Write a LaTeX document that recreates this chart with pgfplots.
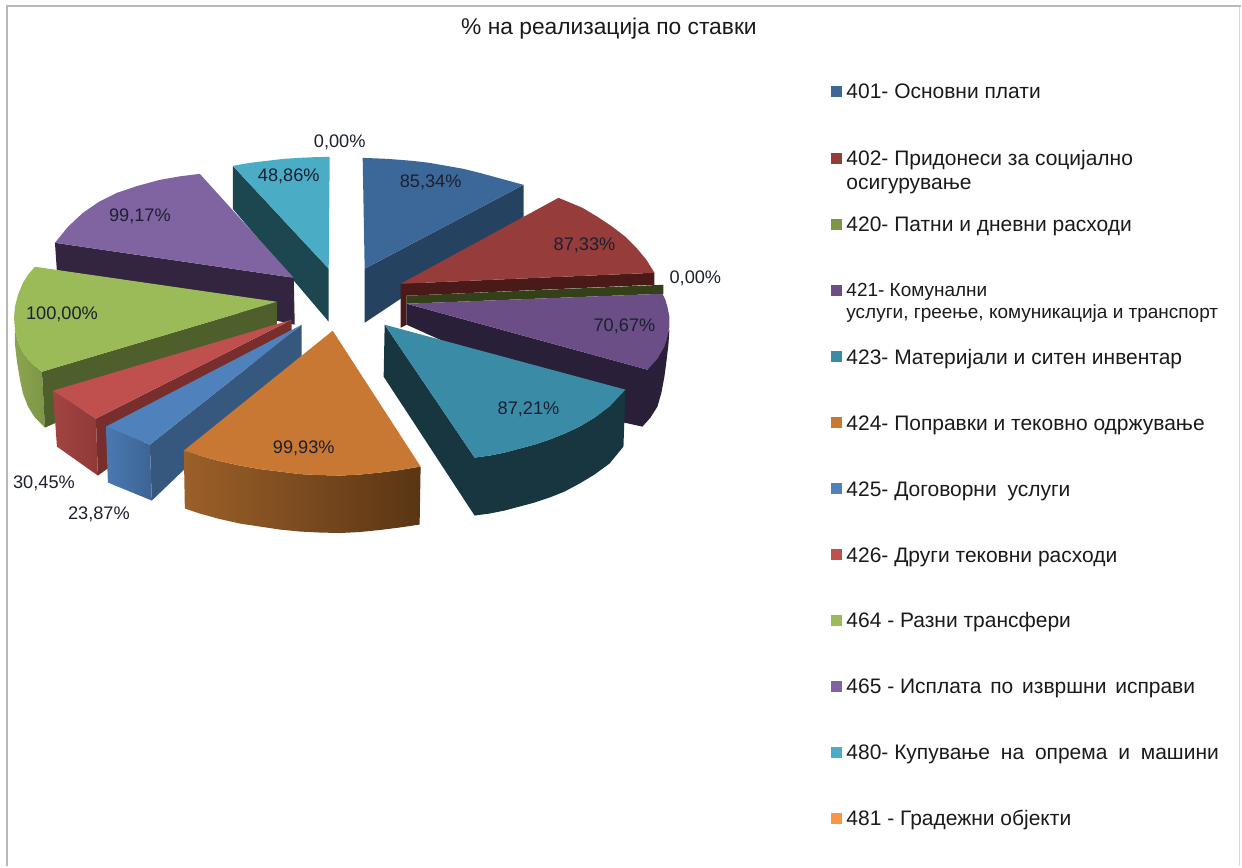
\documentclass[border=0pt]{standalone}
\usepackage{fontspec}
\setmainfont{Liberation Sans}
\usepackage{pgfplots}
\pgfplotsset{compat=1.18}
\definecolor{lab}{HTML}{1C2030}
\definecolor{leg}{HTML}{1A1A1A}
\definecolor{frame}{HTML}{B8B8B8}
\definecolor{frameR}{HTML}{D8D8D8}
\definecolor{cA}{HTML}{3C6799}\definecolor{cAs}{HTML}{254261}
\definecolor{cB}{HTML}{963C3A}\definecolor{cBs}{HTML}{4A1A18}
\definecolor{cC}{HTML}{334018}
\definecolor{cD}{HTML}{6A4E85}\definecolor{cDs}{HTML}{2A1F38}
\definecolor{cE}{HTML}{3A8BA5}\definecolor{cEs}{HTML}{17363F}
\definecolor{cF}{HTML}{C97833}\definecolor{cFa}{HTML}{9C6029}\definecolor{cFb}{HTML}{5A3514}
\definecolor{cG}{HTML}{4F81BD}\definecolor{cGs}{HTML}{36587F}\definecolor{cGa}{HTML}{4A79B0}\definecolor{cGb}{HTML}{3C6494}
\definecolor{cH}{HTML}{C0504D}\definecolor{cHs}{HTML}{772E2C}\definecolor{cHa}{HTML}{A34341}\definecolor{cHb}{HTML}{8F3A38}
\definecolor{cI}{HTML}{9BBB59}\definecolor{cIs}{HTML}{4E5F2B}\definecolor{cIa}{HTML}{8BA54F}\definecolor{cIb}{HTML}{7D9646}
\definecolor{cJ}{HTML}{8064A2}\definecolor{cJs}{HTML}{33243F}
\definecolor{cK}{HTML}{4BACC6}\definecolor{cKs}{HTML}{1C4650}
\definecolor{cL}{HTML}{F79646}
\newcommand{\dl}[3]{\node[font=\fontsize{18.2}{20}\selectfont,text=lab,inner sep=0pt] at (axis cs:#1,#2) {#3};}
\newcommand{\lt}[3]{\node[font=\fontsize{21}{24}\selectfont,text=leg,inner sep=0pt,anchor=base west] at (axis cs:#1,#2) {#3};}
\newcommand{\ls}[3]{\node[font=\fontsize{19}{22}\selectfont,text=leg,inner sep=0pt,anchor=base west] at (axis cs:#1,#2) {#3};}
\newcommand{\lm}[3]{\addplot[only marks,mark=square*,mark size=5pt,mark options={draw=#3,fill=#3}] coordinates {(#1,#2)};}
\begin{document}
\begin{tikzpicture}
\begin{axis}[scale only axis,width=1242pt,height=867pt,xmin=0,xmax=1242,ymin=0,ymax=867,y dir=reverse,hide axis,clip=false]
\path (axis cs:0,0) rectangle (axis cs:1242,867);
% frame
\addplot[draw=frameR,line width=1pt,mark=none] coordinates {(1241,6) (1241,867)};
\addplot[draw=frame,line width=2.2pt,mark=none] coordinates {(6.7,867) (6.7,6.2) (1242,6.2)};
% 401
\addplot[draw=none,fill=cAs] coordinates {(365,269) (524,185) (524,217) (365,323)};
\addplot[draw=none,fill=cA] coordinates {(363,158) (388,159) (413,161) (430,163) (447,166) (464,169) (480,173) (502,179) (524,185) (365,269)};
% 480
\addplot[draw=none,fill=cKs] coordinates {(233,166) (329,269) (329,322) (233,209)};
\addplot[draw=none,fill=cK] coordinates {(233,166) (250,163) (267,161) (284,159) (300,158) (315,157.3) (330,157) (329,269)};
% 465
\addplot[draw=none,fill=cJs] coordinates {(55,243) (294,278) (295,325) (57,272)};
\addplot[draw=none,fill=cJ] coordinates {(200,174) (180,176.5) (160,180) (138,186) (117,193) (99,202) (83,213) (68,227) (55,243) (294,278)};
% 464
\addplot[draw=none,left color=cIa,right color=cIb] coordinates {(15,330) (18,342) (23,353) (31,363) (42,372) (45,428) (35,418) (28,407) (23,394) (20,380) (17,362) (15,345)};
\addplot[draw=none,fill=cIs] coordinates {(42,372) (277,302) (277,325) (45,428)};
\addplot[draw=none,fill=cI] coordinates {(35,267) (28,275) (23,283) (18,295) (15,307) (14,318) (15,330) (18,342) (23,353) (31,363) (42,372) (277,302)};
% 426
\addplot[draw=none,fill=cHs] coordinates {(292,320) (96,419) (98,476) (292,335)};
\addplot[draw=none,left color=cHa,right color=cHb] coordinates {(53,391) (96,419) (98,476) (57,447)};
\addplot[draw=none,fill=cH] coordinates {(292,320) (53,391) (96,419)};
% 425
\addplot[draw=none,fill=cGs] coordinates {(302,325) (150,445) (152,501) (302,357)};
\addplot[draw=none,left color=cGa,right color=cGb] coordinates {(106,427) (150,445) (152,501) (108,483)};
\addplot[draw=none,fill=cG] coordinates {(302,325) (106,427) (150,445)};
% 424
\addplot[draw=none,left color=cFa,right color=cFb] coordinates {(184,451) (200,456) (220,461.5) (240,466) (260,469.5) (280,472) (300,474.5) (320,475.5) (340,476) (360,475) (380,473) (400,470.5) (421,467) (420,525) (400,528) (380,530.5) (360,532.5) (340,533.5) (320,533) (300,532) (280,530) (260,527) (240,524) (220,519.5) (200,514) (185,509)};
\addplot[draw=none,fill=cF] coordinates {(333,331) (184,451) (200,456) (220,461.5) (240,466) (260,469.5) (280,472) (300,474.5) (320,475.5) (340,476) (360,475) (380,473) (400,470.5) (421,467)};
% 402
\addplot[draw=none,fill=cBs] coordinates {(401,284) (655,273) (655,285) (407,296) (407,325) (401,328)};
\addplot[draw=none,fill=cB] coordinates {(401,284) (559,198) (571,203) (583,208) (598,217) (613,227) (626,237) (637,248) (647,260) (655,273)};
% 420
\addplot[draw=none,fill=cC] coordinates {(407,296) (664,285) (664,294) (407,304)};
% 421
\addplot[draw=none,fill=cDs] coordinates {(407,304) (648,370) (670,330) (669,345) (667,362) (665,377) (662,393) (658,407) (651,418) (643,427) (625,423) (407,325)};
\addplot[draw=none,fill=cD] coordinates {(407,304) (663,294) (666,300) (668,307) (670,317) (670,327) (668,337) (665,347) (658,359) (648,370)};
% 423
\addplot[draw=none,fill=cEs] coordinates {(385,325) (475,458) (490,456) (505,453) (520,449) (535,445) (550,440) (565,434) (580,427) (595,418) (610,407) (626,390) (624,447) (610,464) (595,475) (580,484) (565,492) (550,498) (535,503) (520,507) (505,511) (490,514) (475,516) (384,377)};
\addplot[draw=none,fill=cE] coordinates {(385,325) (626,390) (610,407) (595,418) (580,427) (565,434) (550,440) (535,445) (520,449) (505,453) (490,456) (475,458)};
% data labels
\dl{340}{142}{0,00\%}
\dl{431}{182}{85,34\%}
\dl{585}{246}{87,33\%}
\dl{696}{279}{0,00\%}
\dl{625}{327}{70,67\%}
\dl{529}{410}{87,21\%}
\dl{304}{449}{99,93\%}
\dl{99}{515}{23,87\%}
\dl{44}{484}{30,45\%}
\dl{62}{315}{100,00\%}
\dl{140}{217}{99,17\%}
\dl{289}{176}{48,86\%}
% title
\node[font=\fontsize{22.8}{26}\selectfont,text=leg,inner sep=0pt] at (axis cs:609.5,29) {\% на реализација по ставки};
% legend
\lm{837}{91}{cA}
\lm{837}{158}{cB}
\lm{837}{224}{cIb}
\lm{837}{290}{cD}
\lm{837}{357}{cE}
\lm{837}{423}{cF}
\lm{837}{489}{cG}
\lm{837}{555}{cH}
\lm{837}{621}{cI}
\lm{837}{687}{cJ}
\lm{837}{753}{cK}
\lm{837}{819}{cL}
\lt{847}{98.5}{401- Основни плати}
\lt{847}{165.5}{402- Придонеси за социјално}
\lt{847}{190}{осигурување}
\lt{847}{231.5}{420- Патни и дневни расходи}
\ls{847}{297}{421- Комунални}
\ls{847}{319}{услуги, греење, комуникација и транспорт}
\lt{847}{364.5}{423- Материјали и ситен инвентар}
\lt{847}{430.5}{424- Поправки и тековно одржување}
\lt{847}{496.5}{425- Договорни\hspace{5pt} услуги}
\lt{847}{562.5}{426- Други тековни расходи}
\lt{847}{628.5}{464 - Разни трансфери}
\lt{847}{694.5}{465 - Исплата\hspace{3pt} по\hspace{3pt} извршни\hspace{3pt} исправи}
\lt{847}{760.5}{480- Купување\hspace{5pt} на\hspace{5pt} опрема\hspace{5pt} и\hspace{5pt} машини}
\lt{847}{826.5}{481 - Градежни објекти}
\end{axis}
\end{tikzpicture}
\end{document}
